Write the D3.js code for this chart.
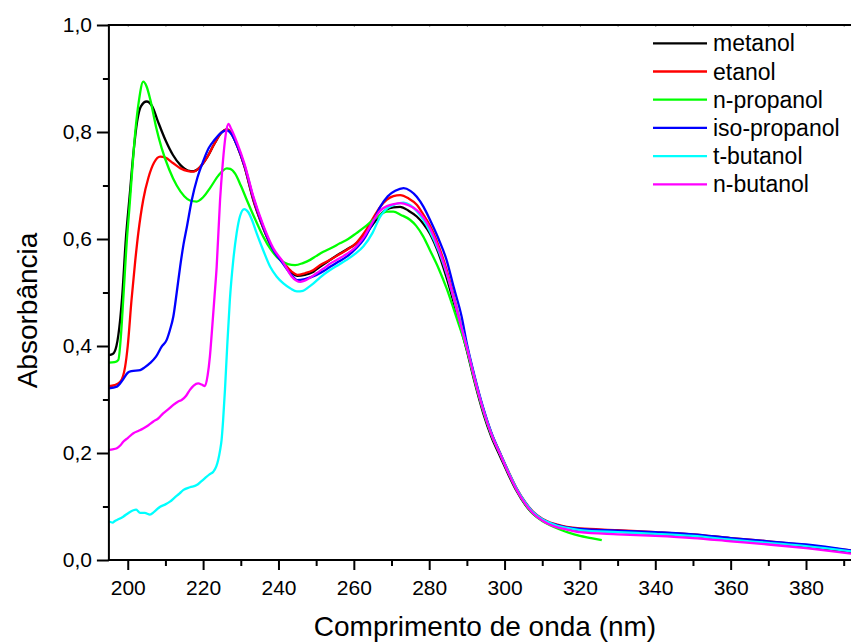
<!DOCTYPE html>
<html>
<head>
<meta charset="utf-8">
<script src="https://cdn.jsdelivr.net/npm/d3@7"></script>
<style>
  html, body { margin: 0; padding: 0; background: #fff; }
  svg { display: block; font-family: "Liberation Sans", Arial, sans-serif; }
</style>
</head>
<body>
<svg id="chart" width="851" height="643"></svg>
<script>
// Absorption spectra, [wavelength nm, absorbance]
const metanol = [
  [195,0.383],[196,0.385],[197,0.40],[198,0.45],[198.5,0.49],[199.5,0.60],[200.5,0.68],[201.5,0.76],
  [202.5,0.82],[203.5,0.848],[205,0.857],[206.5,0.848],[208,0.82],[210,0.785],[212,0.757],[214,0.738],
  [216,0.728],[217.5,0.727],[219,0.733],[221,0.752],[223,0.778],[225,0.80],[226.3,0.805],[227.5,0.798],
  [229,0.775],[231,0.735],[233.3,0.673],[236,0.62],[238.6,0.579],[241.3,0.555],[243.5,0.537],[245,0.531],
  [247,0.533],[249.3,0.539],[251,0.548],[253.7,0.561],[256.3,0.573],[258,0.58],[260.7,0.592],[263,0.608],
  [265.2,0.629],[267,0.645],[268.7,0.655],[270.5,0.659],[272.3,0.660],[274.5,0.653],[276.7,0.642],
  [278.5,0.628],[280.2,0.610],[282.5,0.573],[284.6,0.528],[286.4,0.484],[288,0.443],[290,0.391],
  [292,0.334],[294.4,0.273],[296.5,0.230],[298.8,0.194],[301,0.160],[303.2,0.129],[305.5,0.103],
  [307.6,0.086],[310,0.074],[312.1,0.067],[314,0.063],[316.5,0.059],[320,0.056],[330,0.053],[340,0.049],
  [350,0.045],[360,0.038],[370,0.032],[380,0.025],[393,0.014]
];
const etanol = [
  [195,0.325],[196.5,0.327],[198,0.333],[199.3,0.361],[200,0.40],[201,0.486],[202,0.56],[202.8,0.611],
  [204.1,0.673],[205.5,0.715],[207,0.743],[208.6,0.754],[210,0.752],[212,0.742],[214,0.732],[216,0.727],
  [217.5,0.726],[219,0.733],[221,0.752],[223,0.778],[225,0.80],[226.3,0.805],[227.5,0.797],[229,0.775],
  [231,0.735],[233.3,0.675],[236,0.62],[238.6,0.58],[241.3,0.556],[243.5,0.539],[245,0.533],[247,0.536],
  [249.3,0.542],[251,0.551],[253.7,0.561],[256.3,0.572],[258,0.579],[260.7,0.593],[263,0.614],
  [265.2,0.64],[267,0.66],[268.7,0.673],[270.5,0.680],[272.3,0.682],[274.5,0.676],[276.7,0.664],
  [278.5,0.645],[280.2,0.625],[282.5,0.587],[284.6,0.543],[286.4,0.496],[288,0.452],[290,0.399],
  [292,0.342],[294.4,0.281],[296.5,0.237],[298.8,0.200],[301,0.166],[303.2,0.134],[305.5,0.108],
  [307.6,0.090],[310,0.077],[312.1,0.070],[314,0.066],[316.5,0.062],[320,0.059],[330,0.056],[340,0.052],
  [350,0.048],[360,0.041],[370,0.035],[380,0.028],[393,0.017]
];
const nPropanol = [
  [195,0.369],[196.5,0.370],[197.5,0.374],[198.2,0.42],[198.8,0.486],[199.9,0.611],[200.4,0.654],
  [201.2,0.73],[202,0.80],[203,0.86],[204.1,0.894],[205,0.885],[206,0.86],[207.5,0.81],[209,0.77],
  [211,0.73],[213,0.70],[215,0.68],[216.5,0.672],[218.3,0.670],[220,0.678],[222,0.697],[224,0.718],
  [226.3,0.732],[227.2,0.731],[228.5,0.722],[230,0.70],[231.6,0.673],[234,0.634],[236,0.604],[238,0.58],
  [240.4,0.561],[242.5,0.553],[244.4,0.551],[246.5,0.555],[248.4,0.561],[250,0.568],[251.9,0.576],
  [254,0.583],[256.3,0.592],[258.5,0.60],[260.7,0.611],[263,0.623],[265.2,0.636],[267,0.645],
  [268.7,0.651],[270.5,0.651],[272.5,0.645],[274.9,0.636],[276.5,0.625],[278.4,0.605],[280.2,0.579],
  [282.5,0.545],[284.6,0.508],[287.3,0.452],[290,0.393],[292,0.337],[294.4,0.277],[296.5,0.234],
  [298.8,0.198],[301,0.163],[303.2,0.131],[305.5,0.104],[307.6,0.086],[310,0.073],[312.1,0.065],
  [314.7,0.057],[317,0.051],[320,0.045],[323,0.041],[325.8,0.037]
];
const isoPropanol = [
  [195,0.321],[197.1,0.324],[198.5,0.335],[200,0.350],[201,0.353],[203.3,0.355],[204.5,0.360],
  [205.9,0.368],[207.5,0.380],[209,0.399],[210.3,0.411],[211.2,0.43],[212.1,0.455],[213,0.50],
  [213.9,0.548],[214.8,0.59],[215.7,0.623],[217,0.673],[218.5,0.715],[220,0.745],[221.5,0.77],
  [223,0.785],[224.5,0.797],[226.3,0.803],[227.5,0.796],[229,0.775],[231,0.737],[233.3,0.678],
  [236,0.622],[238.6,0.58],[241.3,0.553],[243.5,0.532],[245,0.523],[247,0.525],[250.1,0.533],
  [252,0.540],[253.7,0.548],[256,0.558],[258.1,0.567],[260.5,0.582],[262.5,0.598],[265,0.63],
  [267,0.66],[269,0.680],[271,0.690],[273.2,0.695],[275,0.690],[276.7,0.679],[278.5,0.66],[280.2,0.636],
  [282.5,0.60],[284.6,0.561],[286.5,0.51],[288.6,0.455],[290,0.404],[292,0.345],[294.4,0.283],
  [296.5,0.238],[298.8,0.200],[301,0.165],[303.2,0.133],[305.5,0.107],[307.6,0.089],[310,0.076],
  [312.1,0.069],[314,0.065],[316.5,0.061],[320,0.058],[330,0.055],[340,0.052],[350,0.048],[360,0.041],
  [370,0.035],[380,0.029],[393,0.017]
];
const tButanol = [
  [195,0.072],[196,0.070],[196.6,0.073],[197.5,0.076],[198.8,0.081],[200.2,0.088],[201.5,0.093],
  [202.2,0.094],[203.3,0.088],[204.5,0.088],[205.9,0.085],[207,0.090],[208.6,0.0997],[210,0.104],
  [211.2,0.109],[212.5,0.117],[213.7,0.124],[214.8,0.131],[216.5,0.136],[218.3,0.140],[219.5,0.147],
  [220.5,0.153],[221.7,0.160],[222.7,0.165],[223.5,0.175],[224,0.187],[224.5,0.205],[224.9,0.224],
  [225.3,0.26],[225.8,0.318],[226.4,0.40],[227.1,0.486],[228,0.56],[228.9,0.611],[229.8,0.643],
  [230.9,0.656],[232,0.650],[233,0.635],[234.2,0.611],[236,0.578],[237.8,0.548],[239.5,0.530],
  [241.3,0.517],[243.1,0.508],[244.9,0.502],[246.5,0.503],[248,0.510],[249.3,0.517],[251,0.528],
  [253.7,0.542],[256,0.552],[258.1,0.561],[260.5,0.573],[262.5,0.586],[265,0.612],[267,0.642],
  [269,0.658],[271,0.665],[273.2,0.668],[275,0.663],[276.7,0.652],[278.4,0.636],[280.2,0.614],
  [282.5,0.578],[284.6,0.536],[286.4,0.492],[288,0.450],[290,0.398],[292,0.341],[294.4,0.280],
  [296.5,0.236],[298.8,0.199],[301,0.165],[303.2,0.133],[305.5,0.107],[307.6,0.089],[310,0.076],
  [312.1,0.069],[314,0.064],[316.5,0.060],[320,0.056],[330,0.052],[340,0.049],[350,0.045],[360,0.038],
  [370,0.032],[380,0.026],[393,0.015]
];
const nButanol = [
  [195,0.206],[196,0.207],[197.1,0.209],[198,0.214],[198.8,0.221],[200,0.228],[201.5,0.237],[203,0.242],
  [204.1,0.246],[205.5,0.252],[206.8,0.259],[208,0.264],[209.4,0.274],[210.8,0.282],[212.1,0.290],
  [213.3,0.296],[214.3,0.299],[215.5,0.307],[216.5,0.318],[217.5,0.326],[218.7,0.330],[219.6,0.328],
  [220.5,0.325],[221.2,0.345],[221.8,0.38],[222.3,0.424],[223,0.49],[223.6,0.548],[224.5,0.673],
  [225.2,0.74],[226,0.795],[226.7,0.815],[227.5,0.805],[229,0.78],[231,0.74],[233.3,0.68],[236,0.625],
  [238.6,0.583],[241.3,0.556],[243.5,0.530],[245.8,0.520],[248,0.526],[250.1,0.536],[252,0.545],
  [253.7,0.554],[256,0.563],[258.1,0.572],[260.5,0.585],[262.5,0.602],[265,0.632],[267,0.653],
  [269,0.662],[270.5,0.665],[272.3,0.667],[274.5,0.663],[276.7,0.654],[278.5,0.64],[280.2,0.62],
  [282.5,0.582],[284.6,0.538],[286.4,0.492],[288,0.449],[290,0.397],[292,0.340],[294.4,0.279],
  [296.5,0.235],[298.8,0.198],[301,0.163],[303.2,0.131],[305.5,0.105],[307.6,0.087],[310,0.074],
  [312.1,0.066],[314,0.061],[316.5,0.057],[320,0.052],[330,0.048],[340,0.045],[350,0.041],[360,0.035],
  [370,0.029],[380,0.022],[393,0.011]
];

const seriesNames  = ["metanol", "etanol", "n-propanol", "iso-propanol", "t-butanol", "n-butanol"];
const seriesData   = [metanol, etanol, nPropanol, isoPropanol, tButanol, nButanol];
const seriesColors = ["#000000", "#ff0000", "#00ff00", "#0000ff", "#00ffff", "#ff00ff"];

const xMajorTicks = [200, 220, 240, 260, 280, 300, 320, 340, 360, 380];
const xMinorTicks = [210, 230, 250, 270, 290, 310, 330, 350, 370, 390];
const yMajorTicks = [0, 0.2, 0.4, 0.6, 0.8, 1.0];
const yMinorTicks = [0.1, 0.3, 0.5, 0.7, 0.9];

const xTitle = "Comprimento de onda (nm)";
const yTitle = "Absorbância";

const svg = d3.select("#chart");

const x = d3.scaleLinear().domain([195, 393]).range([108.9, 855]);
const y = d3.scaleLinear().domain([0, 1]).range([560, 25]);

const x0 = x(195), y0 = y(0), yTop = y(1);
const fmtY = d3.format(".1f");

// curves
const line = d3.line()
  .x(d => x(d[0]))
  .y(d => y(d[1]))
  .curve(d3.curveMonotoneX);

svg.append("g")
  .selectAll("path")
  .data(seriesData)
  .join("path")
  .attr("d", line)
  .attr("fill", "none")
  .attr("stroke", (d, i) => seriesColors[i])
  .attr("stroke-width", 2.3)
  .attr("stroke-linejoin", "round");

// bottom axis
const gx = svg.append("g").attr("transform", `translate(0,${y0})`);
gx.call(d3.axisBottom(x).tickValues(xMajorTicks).tickSize(10).tickSizeOuter(0)
    .tickPadding(10).tickFormat(d3.format("d")));
gx.append("g").call(d3.axisBottom(x).tickValues(xMinorTicks).tickSize(6).tickSizeOuter(0).tickFormat(""));

// left axis
const gy = svg.append("g").attr("transform", `translate(${x0},0)`);
gy.call(d3.axisLeft(y).tickValues(yMajorTicks).tickSize(12).tickSizeOuter(0)
    .tickPadding(5).tickFormat(d => fmtY(d).replace(".", ",")));
gy.append("g").call(d3.axisLeft(y).tickValues(yMinorTicks).tickSize(6).tickSizeOuter(0).tickFormat(""));

// top axis with tiny inward ticks
const gt = svg.append("g").attr("transform", `translate(0,${yTop})`);
gt.call(d3.axisBottom(x).tickValues(xMajorTicks.concat(xMinorTicks)).tickSize(2).tickSizeOuter(0).tickFormat(""));
gt.selectAll(".tick line").attr("stroke", "#999").attr("stroke-width", 1);

svg.selectAll(".domain").remove();
gx.selectAll(".tick line").attr("stroke-width", 2);
gy.selectAll(".tick line").attr("stroke-width", 2);

svg.selectAll(".tick text")
  .attr("font-family", "Liberation Sans, Arial, sans-serif")
  .attr("font-size", 21)
  .attr("fill", "#000");

// axis lines
svg.append("line").attr("x1", x0).attr("x2", x0).attr("y1", yTop - 1).attr("y2", y0 + 1)
  .attr("stroke", "#000").attr("stroke-width", 2);
svg.append("line").attr("x1", x0 - 1).attr("x2", 851).attr("y1", y0).attr("y2", y0)
  .attr("stroke", "#000").attr("stroke-width", 2);
svg.append("line").attr("x1", x0 - 1).attr("x2", 851).attr("y1", yTop).attr("y2", yTop)
  .attr("stroke", "#000").attr("stroke-width", 2);

// axis titles
svg.append("text")
  .attr("x", 485).attr("y", 636)
  .attr("text-anchor", "middle")
  .attr("font-size", 28)
  .text(xTitle);

svg.append("text")
  .attr("transform", `translate(37,310.5) rotate(-90)`)
  .attr("text-anchor", "middle")
  .attr("font-size", 28)
  .text(yTitle);

// legend
const legend = svg.append("g").attr("transform", "translate(653,43.3)");
const rows = legend.selectAll("g")
  .data(seriesNames)
  .join("g")
  .attr("transform", (d, i) => `translate(0,${i * 28.2})`);
rows.append("line")
  .attr("x1", 0).attr("x2", 54).attr("y1", 0).attr("y2", 0)
  .attr("stroke", (d, i) => seriesColors[i])
  .attr("stroke-width", 2.3);
rows.append("text")
  .attr("x", 60).attr("y", 8)
  .attr("font-size", 23)
  .text(d => d);
</script>
</body>
</html>
